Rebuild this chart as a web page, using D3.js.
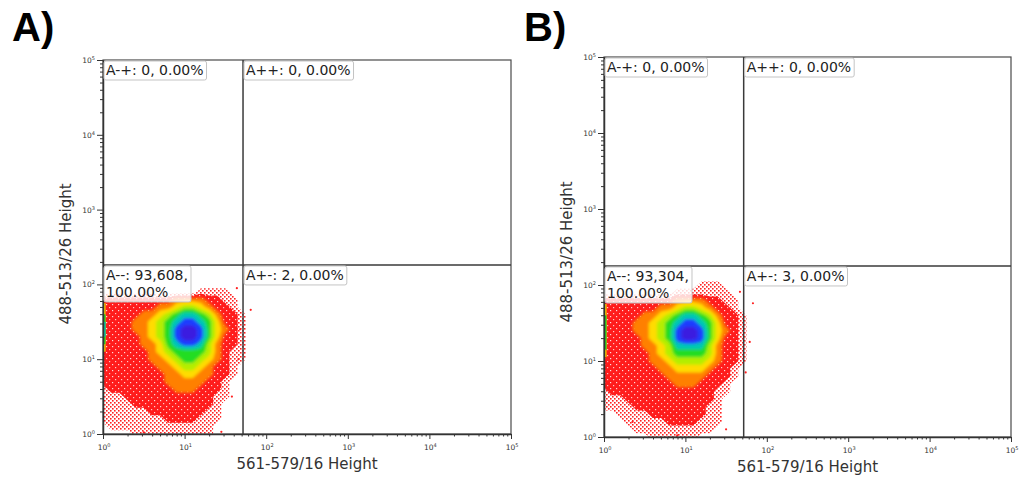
<!DOCTYPE html>
<html><head><meta charset="utf-8">
<script src="https://cdn.jsdelivr.net/npm/d3@7"></script>
<style>body{margin:0;background:#fff}svg{display:block}</style>
</head><body>
<svg id="c" width="1026" height="481"></svg>
<script>
// ---------------- data ----------------
const panelTitles = ["A)", "B)"];
const xAxisTitle = "561-579/16 Height";
const yAxisTitle = "488-513/26 Height";
const decades = [1, 10, 100, 1000, 10000, 100000];
const decadeExponents = ["0", "1", "2", "3", "4", "5"];
const gateXValues = [52, 52];
const gateYValues = [182, 178];
const quadrantLabelsA = [["A-+: 0, 0.00%"], ["A++: 0, 0.00%"], ["A--: 93,608,", "100.00%"], ["A+-: 2, 0.00%"]];
const quadrantLabelsB = [["A-+: 0, 0.00%"], ["A++: 0, 0.00%"], ["A--: 93,304,", "100.00%"], ["A+-: 3, 0.00%"]];
// density level grid: columns log10(x) = 0.0 .. 1.9 (step 0.1), rows log10(y) = 2.0 (top) .. 0.0 (step 0.1)
// 0 empty, 1 sparse, 2 red, 3 orange, 4 yellow, 5 yellow-green, 6 green, 7 cyan, 8 blue, 9 violet
const densityA = [
  "00000000000000000000",
  "00000000000011110000",
  "22222222233332211000",
  "22222223345543221000",
  "22222334567765322100",
  "22223345678876422100",
  "22223345689986432100",
  "22222345689986422100",
  "22222334678875322100",
  "22222234566665321100",
  "22222233456654321100",
  "22222223345543221000",
  "22222222334433221000",
  "22222222333332210000",
  "12222222233322210000",
  "11122222222222110000",
  "11112222222222100000",
  "11111122222221100000",
  "11111111222211100000",
  "01111111111111000000",
  "00001111111111000000"
];
const densityB = [
  "00000000000011100000",
  "00000000011111110000",
  "22222222233332211000",
  "22222223345543221000",
  "22222334567765322100",
  "22223345678876422100",
  "22223345689986432100",
  "22222345689986422100",
  "22222334577775322100",
  "22222234566665322100",
  "22222233455554322100",
  "22222223344443221000",
  "22222222333332221000",
  "22222222233322210000",
  "12222222222222110000",
  "11122222222222100000",
  "11112222222221100000",
  "00111122222221100000",
  "00011111222211100000",
  "00001111111111000000",
  "00000011111100000000"
];
// events piled on the y axis: [log10 y from, log10 y to, level]
const axisPileA = [[1.10, 1.75, 4], [1.20, 1.60, 6], [1.30, 1.50, 7]];
const axisPileB = [[1.05, 1.75, 4], [1.15, 1.60, 6]];
// isolated events [x, y]
const outliersA = [[64.6, 45.7], [47.9, 25.1], [43.7, 89.1], [45.7, 10], [38.0, 3.16], [3.16, 1.05], [28.2, 1.07]];
const outliersB = [[67.6, 57.5], [61.7, 17.8], [55.0, 7.08], [46.8, 81.3], [7.94, 1.05], [2.24, 1.58], [31.6, 1.26]];

const levelColors = ["url(#speckle)", "url(#dense)", "#ff8000", "#ffdc00", "#b4ee00", "#22dd22", "#00c8b4", "#1c3cff", "#3a1ee0"];
const pileColors = ["#ff2424", "#ff2424", "#ff8000", "#ffdc00", "#b4ee00", "#22dd22", "#00c8b4", "#1c3cff", "#3a1ee0"];

// ---------------- drawing ----------------
const svg = d3.select("#c");
const defs = svg.append("defs");
const pat = defs.append("pattern").attr("id", "speckle").attr("patternUnits", "userSpaceOnUse")
  .attr("width", 4).attr("height", 4);
pat.append("rect").attr("x", 0).attr("y", 0).attr("width", 1.6).attr("height", 1.6).attr("fill", "#ff2020");
pat.append("rect").attr("x", 2).attr("y", 2).attr("width", 1.6).attr("height", 1.6).attr("fill", "#ff2020");
const pat2 = defs.append("pattern").attr("id", "dense").attr("patternUnits", "userSpaceOnUse")
  .attr("width", 6).attr("height", 6);
pat2.append("rect").attr("width", 6).attr("height", 6).attr("fill", "#ff1c1c");
pat2.append("rect").attr("x", 1).attr("y", 1).attr("width", 1.2).attr("height", 1.2).attr("fill", "#ffc8c8");
pat2.append("rect").attr("x", 4).attr("y", 4).attr("width", 1.2).attr("height", 1.2).attr("fill", "#ffd8d8");
defs.append("filter").attr("id", "soft").attr("x", "-10%").attr("y", "-10%").attr("width", "120%").attr("height", "120%")
  .append("feGaussianBlur").attr("stdDeviation", 1.6);

const layouts = [
  {l: 103, r: 511, t: 60, b: 434, tx: 12, ty: 41, ytx: 66, yty: 254},
  {l: 604, r: 1011, t: 57, b: 437, tx: 524, ty: 41, ytx: 567, yty: 252}
];
const panelData = [
  {density: densityA, pile: axisPileA, out: outliersA, labels: quadrantLabelsA},
  {density: densityB, pile: axisPileB, out: outliersB, labels: quadrantLabelsB}
];
const minorTicks = [];
decades.slice(0, -1).forEach(d => { for (let m = 2; m <= 9; m++) minorTicks.push(d * m); });

layouts.forEach((L, pi) => {
  const P = panelData[pi];
  const g = svg.append("g");
  const x = d3.scaleLog().domain([1, 1e5]).range([L.l, L.r]);
  const y = d3.scaleLog().domain([1, 1e5]).range([L.b, L.t]);

  // panel title
  svg.append("text").attr("x", L.tx).attr("y", L.ty).text(panelTitles[pi])
    .attr("font-family", "Liberation Sans, Arial, sans-serif").attr("font-weight", "bold")
    .attr("font-size", 40).attr("fill", "#000");

  // clip
  const cid = "clip" + pi;
  defs.append("clipPath").attr("id", cid).append("rect")
    .attr("x", L.l).attr("y", L.t).attr("width", L.r - L.l).attr("height", L.b - L.t);

  // density contours
  const rows = P.density.length, cols = P.density[0].length;
  const values = P.density.flatMap(s => s.split("").map(Number));
  const contours = d3.contours().size([cols, rows]).thresholds(d3.range(0.5, 9, 1))(values);
  const proj = d3.geoTransform({
    point: function(px, py) {
      const lx = (px - 0.5) * 0.1;
      const ly = (rows - 1) * 0.1 - (py - 0.5) * 0.1;
      this.stream.point(x(Math.pow(10, lx)), y(Math.pow(10, ly)));
    }
  });
  const path = d3.geoPath(proj);
  const dg = g.append("g").attr("clip-path", `url(#${cid})`);
  dg.selectAll("path.lo").data(contours.slice(0, 2)).join("path")
    .attr("d", path).attr("fill", (d, i) => levelColors[i]);
  dg.append("g").attr("filter", "url(#soft)")
    .selectAll("path").data(contours.slice(2)).join("path")
    .attr("d", path).attr("fill", (d, i) => levelColors[i + 2]);

  // pile-up on axis
  dg.selectAll("rect.pile").data(P.pile).join("rect")
    .attr("x", L.l).attr("width", 2.5)
    .attr("y", d => y(Math.pow(10, d[1]))).attr("height", d => y(Math.pow(10, d[0])) - y(Math.pow(10, d[1])))
    .attr("fill", d => pileColors[d[2] - 1]);

  // outliers
  g.selectAll("circle.o").data(P.out).join("circle")
    .attr("cx", d => x(d[0])).attr("cy", d => y(d[1])).attr("r", 1.1).attr("fill", "#ff2020");

  // frame
  g.append("rect").attr("x", L.l).attr("y", L.t).attr("width", L.r - L.l).attr("height", L.b - L.t)
    .attr("fill", "none").attr("stroke", "#4a4a4a").attr("stroke-width", 1.2);

  // gates
  const gx = x(gateXValues[pi]), gy = y(gateYValues[pi]);
  g.append("line").attr("x1", gx).attr("x2", gx).attr("y1", L.t).attr("y2", L.b)
    .attr("stroke", "#3a3a3a").attr("stroke-width", 1.5);
  g.append("line").attr("x1", L.l).attr("x2", L.r).attr("y1", gy).attr("y2", gy)
    .attr("stroke", "#3a3a3a").attr("stroke-width", 1.5);

  // axes
  const axStyle = sel => { sel.selectAll("path,line").attr("stroke", "#333"); sel.selectAll("text").remove(); };
  g.append("g").attr("transform", `translate(0,${L.b})`)
    .call(d3.axisBottom(x).tickValues(minorTicks).tickSize(2.5).tickSizeOuter(0).tickFormat(() => "")).call(axStyle);
  g.append("g").attr("transform", `translate(0,${L.b})`)
    .call(d3.axisBottom(x).tickValues(decades).tickSize(5).tickSizeOuter(0).tickFormat(() => "")).call(axStyle)
    .select(".domain").attr("stroke-width", 1.5);
  g.append("g").attr("transform", `translate(${L.l},0)`)
    .call(d3.axisLeft(y).tickValues(minorTicks).tickSize(3).tickSizeOuter(0).tickFormat(() => "")).call(axStyle);
  g.append("g").attr("transform", `translate(${L.l},0)`)
    .call(d3.axisLeft(y).tickValues(decades).tickSize(6).tickSizeOuter(0).tickFormat(() => "")).call(axStyle)
    .select(".domain").attr("stroke-width", 1.5);

  // tick labels
  const tf = "DejaVu Sans, Verdana, sans-serif";
  const xl = g.selectAll("text.xl").data(decades).join("text")
    .attr("x", d => x(d) + 1).attr("y", L.b + 16).attr("text-anchor", "middle")
    .attr("font-family", tf).attr("font-size", 7.5).attr("fill", "#333");
  xl.append("tspan").text("10");
  xl.append("tspan").attr("dy", -3).attr("font-size", 5).text((d, i) => decadeExponents[i]);
  const yl = g.selectAll("text.yl").data(decades).join("text")
    .attr("x", L.l - 8).attr("y", d => y(d) + 3).attr("text-anchor", "end")
    .attr("font-family", tf).attr("font-size", 7.5).attr("fill", "#333");
  yl.append("tspan").text("10");
  yl.append("tspan").attr("dy", -3).attr("font-size", 5).text((d, i) => decadeExponents[i]);

  // axis titles
  g.append("text").attr("x", (L.l + L.r) / 2).attr("y", L.b + 35).attr("text-anchor", "middle")
    .attr("font-family", tf).attr("font-size", 15).attr("fill", "#333").text(xAxisTitle);
  g.append("text").attr("transform", `translate(${L.ytx + 5},${L.yty}) rotate(-90)`).attr("text-anchor", "middle")
    .attr("font-family", tf).attr("font-size", 15).attr("fill", "#333").text(yAxisTitle);

  // quadrant labels
  const anchors = [[L.l, L.t], [gx, L.t], [L.l, gy], [gx, gy]];
  P.labels.forEach((lines, qi) => {
    const [ax, ay] = anchors[qi];
    const lg = g.append("g");
    const rect = lg.append("rect");
    const t = lg.append("text").attr("font-family", tf).attr("font-size", 14).attr("fill", "#222");
    lines.forEach((s, li) => t.append("tspan").attr("x", ax + 3).attr("y", ay + 15 + li * 17).text(s));
    const bb = t.node().getBBox();
    rect.attr("x", ax + 1).attr("y", ay + 1).attr("width", bb.width + 5).attr("height", bb.height + 3)
      .attr("rx", 2).attr("fill", "rgba(255,255,255,0.82)").attr("stroke", "#c4c4c4").attr("stroke-width", 1);
  });
});
</script>
</body></html>
